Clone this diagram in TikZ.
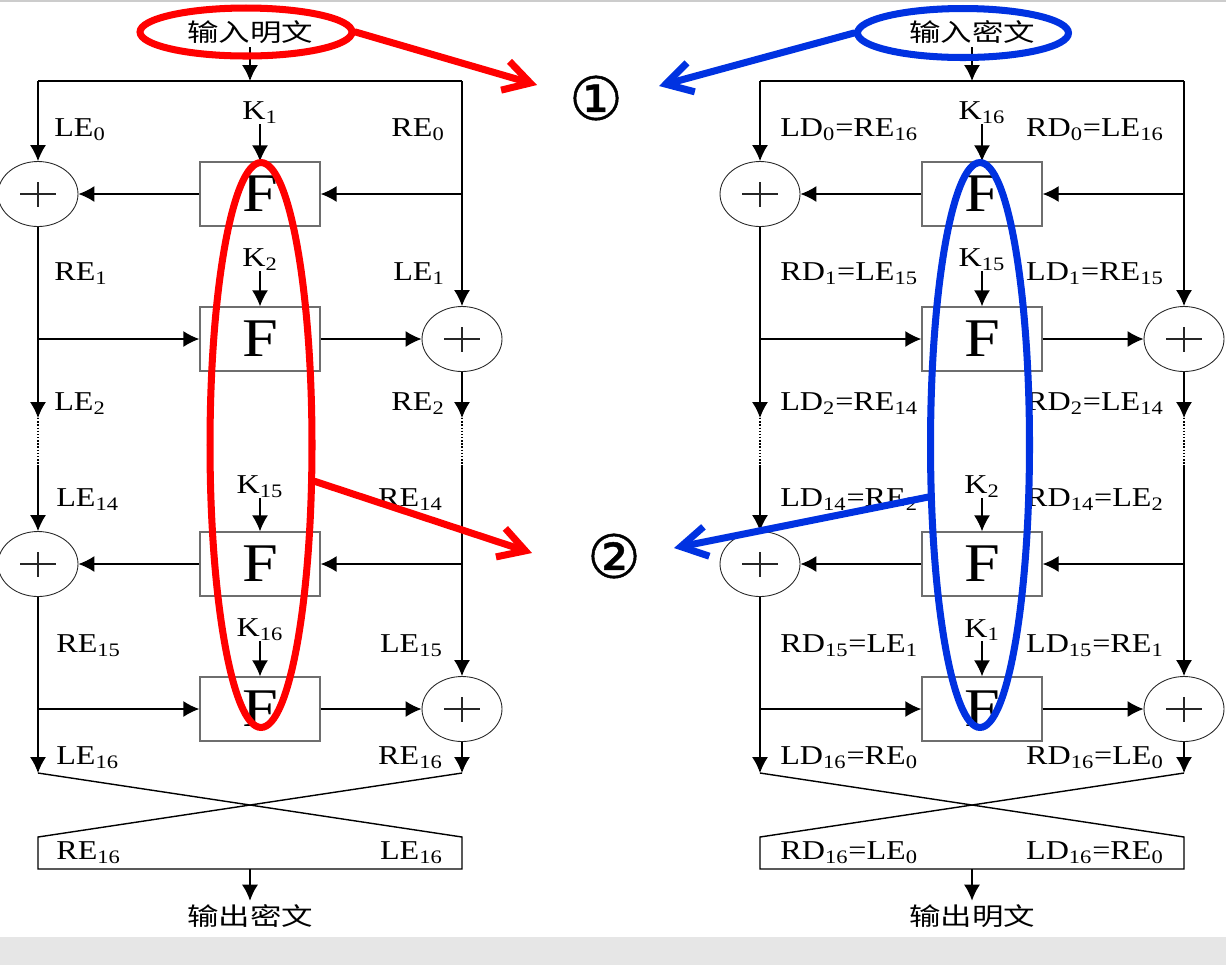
\documentclass[tikz,border=0pt]{standalone}
\usepackage{fontspec}
\setmainfont{Liberation Serif}[FakeStretch=1.18]
\newfontfamily\cjk{Noto Sans CJK SC}[FakeStretch=1.28]
\newfontfamily\numfont{DejaVu Sans}[FakeBold=0.8]
\usetikzlibrary{arrows.meta,shapes.geometric}

\definecolor{markred}{RGB}{255,0,0}
\definecolor{markblue}{RGB}{0,50,225}
\definecolor{boxgray}{RGB}{110,110,110}
\definecolor{bandgray}{RGB}{230,230,230}

\tikzset{
  wire/.style={line width=0.8pt},
  flow/.style={wire, -{Latex[length=0.32cm,width=0.32cm]}},
  fbox/.style={draw=boxgray, line width=0.8pt, minimum width=2.4cm, minimum height=1.28cm,
    inner sep=0pt, font=\fontsize{31}{31}\selectfont},
  xor/.style={ellipse, draw=black!85, line width=0.5pt, minimum width=1.6cm, minimum height=1.3cm,
    inner sep=0pt, path picture={
      \draw[line width=1.3pt] ([xshift=-0.36cm]path picture bounding box.center) -- ([xshift=0.36cm]path picture bounding box.center)
        ([yshift=-0.25cm]path picture bounding box.center) -- ([yshift=0.25cm]path picture bounding box.center);}},
  lbl/.style={inner sep=0pt, font=\fontsize{15.5}{18}\selectfont},
  txt/.style={inner sep=2pt, font=\cjk\fontsize{14}{16}\selectfont},
  ring/.style={ellipse, line width=4pt, inner sep=0pt},
  hiarrow/.style={line width=4pt, line cap=round, -{Straight Barb[length=0.52cm,width=0.6cm]}},
  numlbl/.style={inner sep=0pt, font=\numfont\fontsize{34}{34}\selectfont}
}

% one 16-round network: input, output, four round keys
\newcommand{\roundnet}[6]{%
  \node[txt] (in) at (250,32) {#1};
  \node[txt] (out) at (250,916) {#2};
  \coordinate (ti) at (250,81);
  \coordinate (tl) at (38,81);
  \coordinate (tr) at (462,81);
  % F boxes and adders
  \node[fbox] (f1) at (260,194) {F};
  \node[fbox] (f2) at (260,339) {F};
  \node[fbox] (f3) at (260,564) {F};
  \node[fbox] (f4) at (260,709) {F};
  \node[xor] (x1) at (38,194) {};
  \node[xor] (x2) at (462,339) {};
  \node[xor] (x3) at (38,564) {};
  \node[xor] (x4) at (462,709) {};
  % round keys
  \node[lbl] (k1) at (260,113) {#3};
  \node[lbl] (k2) at (260,260) {#4};
  \node[lbl] (k3) at (260,487) {#5};
  \node[lbl] (k4) at (260,630) {#6};
  % dotted gap
  \coordinate (ga) at (38,418);
  \coordinate (gb) at (38,467);
  \coordinate (gc) at (462,418);
  \coordinate (gd) at (462,467);
  % final swap
  \coordinate (bl) at (38,773);
  \coordinate (br) at (462,773);
  \coordinate (cl) at (38,837);
  \coordinate (cr) at (462,837);
  \coordinate (el) at (38,869);
  \coordinate (er) at (462,869);
  \coordinate (eo) at (250,869);
  %
  \draw[flow] (in) -- (ti);
  \draw[wire] (tl) -- (tr);
  \draw[flow] (tl) -- (x1);
  \draw[flow] (k1) -- (f1);
  \draw[flow] (tr |- f1) -- (f1);
  \draw[flow] (f1) -- (x1);
  \draw[flow] (tr) -- (x2);
  \draw[flow] (k2) -- (f2);
  \draw[flow] (x1 |- f2) -- (f2);
  \draw[flow] (f2) -- (x2);
  \draw[flow] (x1) -- (ga);
  \draw[wire, densely dotted] (ga) -- (gb);
  \draw[flow] (gb) -- (x3);
  \draw[flow] (x2) -- (gc);
  \draw[wire, densely dotted] (gc) -- (gd);
  \draw[flow] (gd) -- (x4);
  \draw[flow] (k3) -- (f3);
  \draw[flow] (gd |- f3) -- (f3);
  \draw[flow] (f3) -- (x3);
  \draw[flow] (k4) -- (f4);
  \draw[flow] (x3 |- f4) -- (f4);
  \draw[flow] (f4) -- (x4);
  \draw[flow] (x3) -- (bl);
  \draw[flow] (x4) -- (br);
  \draw[wire] (bl) -- (cr) -- (er) -- (el) -- (cl) -- (br);
  \draw[flow] (eo) -- (out);
}

\begin{document}
\begin{tikzpicture}[x=0.02cm, y=-0.02cm]

  \useasboundingbox (0,0) rectangle (1226,965);
  \fill[bandgray] (0,937) rectangle (1226,965);
  \draw[black!20, line width=1pt] (0,1) -- (1226,1);

  % encryption
  \begin{scope}[name prefix=enc-]
    \roundnet{输入明文}{输出密文}{K\textsubscript{1}}{K\textsubscript{2}}{K\textsubscript{15}}{K\textsubscript{16}}
    \node[lbl, anchor=west] (l0) at (54,130) {LE\textsubscript{0}};
    \node[lbl, anchor=east] (r0) at (445,130) {RE\textsubscript{0}};
    \node[lbl, anchor=west] (l1) at (54,274) {RE\textsubscript{1}};
    \node[lbl, anchor=east] (r1) at (445,274) {LE\textsubscript{1}};
    \node[lbl, anchor=west] (l2) at (54,404) {LE\textsubscript{2}};
    \node[lbl, anchor=east] (r2) at (445,404) {RE\textsubscript{2}};
    \node[lbl, anchor=west] (l14) at (56,500) {LE\textsubscript{14}};
    \node[lbl, anchor=east] (r14) at (443,500) {RE\textsubscript{14}};
    \node[lbl, anchor=west] (l15) at (56,646) {RE\textsubscript{15}};
    \node[lbl, anchor=east] (r15) at (443,646) {LE\textsubscript{15}};
    \node[lbl, anchor=west] (l16) at (56,758) {LE\textsubscript{16}};
    \node[lbl, anchor=east] (r16) at (443,758) {RE\textsubscript{16}};
    \node[lbl, anchor=west] (lo) at (56,853) {RE\textsubscript{16}};
    \node[lbl, anchor=east] (ro) at (443,853) {LE\textsubscript{16}};
  \end{scope}

  % decryption
  \begin{scope}[shift={(722,0)}, name prefix=dec-]
    \roundnet{输入密文}{输出明文}{K\textsubscript{16}}{K\textsubscript{15}}{K\textsubscript{2}}{K\textsubscript{1}}
    \node[lbl, anchor=west] (l0) at (58,130) {LD\textsubscript{0}=RE\textsubscript{16}};
    \node[lbl, anchor=east] (r0) at (442,130) {RD\textsubscript{0}=LE\textsubscript{16}};
    \node[lbl, anchor=west] (l1) at (58,274) {RD\textsubscript{1}=LE\textsubscript{15}};
    \node[lbl, anchor=east] (r1) at (442,274) {LD\textsubscript{1}=RE\textsubscript{15}};
    \node[lbl, anchor=west] (l2) at (58,404) {LD\textsubscript{2}=RE\textsubscript{14}};
    \node[lbl, anchor=east] (r2) at (442,404) {RD\textsubscript{2}=LE\textsubscript{14}};
    \node[lbl, anchor=west] (l14) at (58,500) {LD\textsubscript{14}=RE\textsubscript{2}};
    \node[lbl, anchor=east] (r14) at (442,500) {RD\textsubscript{14}=LE\textsubscript{2}};
    \node[lbl, anchor=west] (l15) at (58,646) {RD\textsubscript{15}=LE\textsubscript{1}};
    \node[lbl, anchor=east] (r15) at (442,646) {LD\textsubscript{15}=RE\textsubscript{1}};
    \node[lbl, anchor=west] (l16) at (58,758) {LD\textsubscript{16}=RE\textsubscript{0}};
    \node[lbl, anchor=east] (r16) at (442,758) {RD\textsubscript{16}=LE\textsubscript{0}};
    \node[lbl, anchor=west] (lo) at (58,853) {RD\textsubscript{16}=LE\textsubscript{0}};
    \node[lbl, anchor=east] (ro) at (442,853) {LD\textsubscript{16}=RE\textsubscript{0}};
  \end{scope}

  % highlights
  \node[ring, draw=markred, minimum width=4.24cm, minimum height=0.96cm] (hiInE) at (246,32) {};
  \node[ring, draw=markred, minimum width=2.04cm, minimum height=11.3cm] (hiKE) at (261,445) {};
  \node[ring, draw=markblue, minimum width=4.22cm, minimum height=0.98cm] (hiInD) at (963,33) {};
  \node[ring, draw=markblue, minimum width=1.98cm, minimum height=11.3cm] (hiKD) at (980,445) {};

  \node[numlbl] (n1) at (596,98) {①};
  \node[numlbl] (n2) at (614,556) {②};
  \coordinate (t1r) at (537,85);
  \coordinate (t1b) at (659,86);
  \coordinate (t2r) at (532,553);
  \coordinate (t2b) at (674,548);

  \draw[hiarrow, markred] (hiInE.east) -- (t1r);
  \draw[hiarrow, markred] (hiKE.-34) -- (t2r);
  \draw[hiarrow, markblue] (hiInD.west) -- (t1b);
  \draw[hiarrow, markblue] (hiKD.225) -- (t2b);

\end{tikzpicture}
\end{document}
